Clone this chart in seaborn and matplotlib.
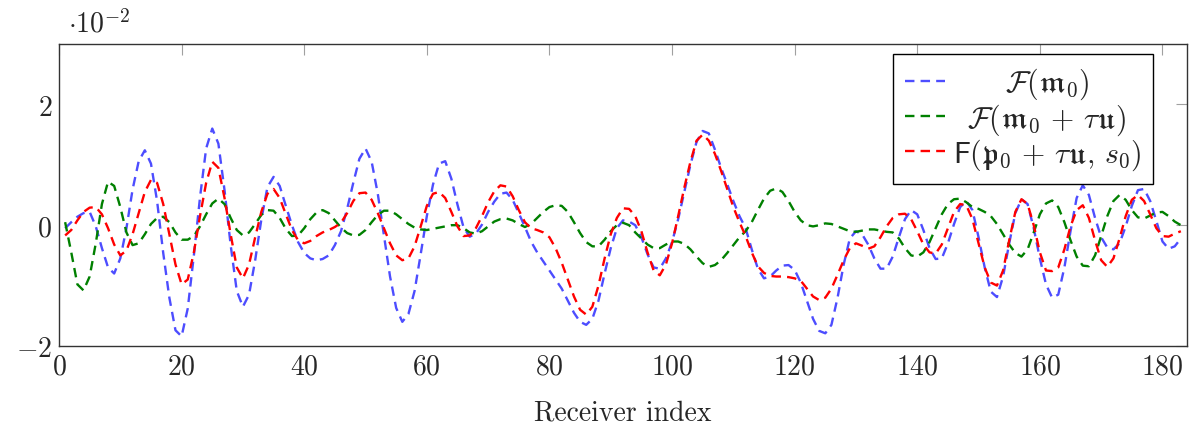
import numpy as np
import pandas as pd
import seaborn as sns
import matplotlib.pyplot as plt

# receiver indices
receivers = list(range(1, 184))

# values in units of 1e-2
F_m0 = [-0.05, 0.05, 0.14, 0.20, 0.22, -0.02, -0.38, -0.70, -0.80, -0.55,
        -0.05, 0.59, 1.06, 1.24, 1.02, 0.40, -0.46, -1.20, -1.74, -1.84,
        -1.38, -0.50, 0.46, 1.27, 1.60, 1.35, 0.58, -0.33, -1.09, -1.35,
        -1.15, -0.58, 0.09, 0.63, 0.80, 0.65, 0.32, 0.00, -0.28, -0.46,
        -0.55, -0.58, -0.56, -0.50, -0.33, -0.10, 0.27, 0.70, 1.10, 1.27,
        1.05, 0.52, -0.17, -0.85, -1.37, -1.60, -1.47, -1.09, -0.48, 0.15,
        0.67, 1.02, 1.06, 0.77, 0.34, -0.04, -0.19, -0.14, 0.01, 0.22,
        0.39, 0.52, 0.54, 0.42, 0.20, -0.03, -0.27, -0.45, -0.60, -0.75,
        -0.90, -1.05, -1.25, -1.45, -1.60, -1.65, -1.55, -1.25, -0.80, -0.38,
        -0.05, 0.08, 0.06, 0.00, -0.20, -0.48, -0.70, -0.72, -0.55, -0.28,
        0.10, 0.55, 1.00, 1.38, 1.56, 1.52, 1.25, 0.95, 0.68, 0.40,
        0.15, -0.05, -0.40, -0.72, -0.88, -0.85, -0.75, -0.67, -0.66, -0.74,
        -0.95, -1.25, -1.55, -1.75, -1.79, -1.65, -1.20, -0.65, -0.22, -0.10,
        -0.15, -0.32, -0.55, -0.72, -0.72, -0.52, -0.20, 0.10, 0.25, 0.18,
        -0.08, -0.38, -0.56, -0.55, -0.30, 0.02, 0.30, 0.40, 0.25, -0.20,
        -0.70, -1.10, -1.19, -0.85, -0.30, 0.20, 0.43, 0.35, -0.05, -0.55,
        -0.98, -1.20, -1.15, -0.70, -0.10, 0.45, 0.66, 0.50, 0.12, -0.20,
        -0.37, -0.40, -0.30, -0.02, 0.32, 0.58, 0.60, 0.40, 0.07, -0.27,
        -0.39, -0.35, -0.22]

F_m0_tau = [0.05, -0.45, -0.98, -1.08, -0.85, -0.30, 0.35, 0.72, 0.65, 0.30,
            -0.12, -0.33, -0.30, -0.15, 0.02, 0.12, 0.14, 0.05, -0.12, -0.24,
            -0.24, -0.18, -0.02, 0.18, 0.36, 0.44, 0.35, 0.12, -0.08, -0.17,
            -0.12, 0.02, 0.17, 0.25, 0.24, 0.12, -0.06, -0.18, -0.17, -0.05,
            0.10, 0.21, 0.25, 0.20, 0.08, -0.04, -0.13, -0.17, -0.16, -0.08,
            0.05, 0.17, 0.24, 0.24, 0.18, 0.10, 0.02, -0.04, -0.07, -0.08,
            -0.06, -0.04, -0.02, 0.00, 0.00, -0.05, -0.12, -0.14, -0.10, -0.02,
            0.06, 0.10, 0.11, 0.08, 0.02, -0.03, 0.02, 0.12, 0.22, 0.30,
            0.33, 0.32, 0.22, 0.05, -0.13, -0.28, -0.35, -0.35, -0.24, -0.10,
            0.00, 0.04, 0.00, -0.12, -0.22, -0.32, -0.38, -0.38, -0.32, -0.27,
            -0.27, -0.31, -0.40, -0.52, -0.63, -0.69, -0.66, -0.58, -0.46, -0.33,
            -0.20, -0.10, 0.05, 0.25, 0.44, 0.57, 0.61, 0.55, 0.40, 0.22,
            0.08, 0.00, -0.02, 0.00, 0.03, 0.02, -0.02, -0.06, -0.10, -0.11,
            -0.09, -0.07, -0.07, -0.09, -0.11, -0.12, -0.22, -0.38, -0.50, -0.52,
            -0.45, -0.28, -0.05, 0.18, 0.35, 0.43, 0.44, 0.38, 0.30, 0.27,
            0.22, 0.15, 0.02, -0.15, -0.32, -0.46, -0.52, -0.40, -0.12, 0.18,
            0.36, 0.41, 0.30, 0.05, -0.25, -0.52, -0.67, -0.68, -0.50, -0.18,
            0.15, 0.40, 0.50, 0.42, 0.25, 0.13, 0.11, 0.16, 0.21, 0.22,
            0.15, 0.06, 0.00]

F_p0 = [-0.17, -0.08, 0.08, 0.22, 0.29, 0.30, 0.18, -0.05, -0.32, -0.50,
        -0.42, -0.15, 0.20, 0.55, 0.75, 0.70, 0.35, -0.15, -0.65, -0.98,
        -0.90, -0.45, 0.15, 0.70, 1.05, 0.95, 0.45, -0.15, -0.70, -0.88,
        -0.65, -0.20, 0.22, 0.52, 0.60, 0.45, 0.18, -0.08, -0.25, -0.30,
        -0.26, -0.18, -0.12, -0.08, -0.03, 0.04, 0.20, 0.40, 0.53, 0.54,
        0.42, 0.20, -0.05, -0.30, -0.50, -0.58, -0.55, -0.35, -0.02, 0.32,
        0.52, 0.55, 0.45, 0.22, -0.02, -0.18, -0.17, -0.05, 0.15, 0.38,
        0.56, 0.66, 0.64, 0.48, 0.25, 0.05, -0.05, -0.08, -0.12, -0.20,
        -0.38, -0.62, -0.90, -1.18, -1.40, -1.48, -1.35, -1.00, -0.55, -0.15,
        0.12, 0.28, 0.27, 0.15, -0.10, -0.45, -0.75, -0.83, -0.65, -0.30,
        0.15, 0.62, 1.05, 1.40, 1.50, 1.40, 1.18, 0.90, 0.60, 0.30,
        0.05, -0.18, -0.45, -0.68, -0.79, -0.84, -0.85, -0.85, -0.86, -0.88,
        -0.92, -1.05, -1.18, -1.24, -1.20, -1.05, -0.82, -0.58, -0.38, -0.30,
        -0.34, -0.39, -0.35, -0.20, -0.02, 0.12, 0.18, 0.19, 0.10, -0.10,
        -0.32, -0.45, -0.47, -0.32, -0.05, 0.22, 0.35, 0.33, 0.10, -0.30,
        -0.70, -0.95, -1.00, -0.75, -0.25, 0.22, 0.43, 0.35, 0.00, -0.45,
        -0.75, -0.76, -0.70, -0.40, -0.02, 0.25, 0.33, 0.12, -0.25, -0.58,
        -0.69, -0.55, -0.22, 0.15, 0.42, 0.50, 0.40, 0.18, -0.05, -0.18,
        -0.19, -0.14, -0.10]

labels = [r'$\mathcal{F}(\mathfrak{m}_0)$',
          r'$\mathcal{F}(\mathfrak{m}_0 \,+\, \tau\mathfrak{u})$',
          r'$\mathsf{F}(\mathfrak{p}_0 \,+\, \tau\mathfrak{u},\, s_0)$']
colors = [(0.3, 0.3, 1.0), (0.0, 0.5, 0.0), (1.0, 0.0, 0.0)]

sns.set_style('white')
plt.rcParams['font.family'] = ['cmr10', 'DejaVu Serif']
plt.rcParams['mathtext.fontset'] = 'cm'
plt.rcParams['axes.formatter.use_mathtext'] = True
plt.rcParams['axes.unicode_minus'] = True

fs = 20

fig = plt.figure(figsize=(11.92, 4.27), dpi=100)
ax = fig.add_axes([0.0495, 0.1874, 0.9463, 0.7072])

for vals, lab, col in zip([F_m0, F_m0_tau, F_p0], labels, colors):
    sns.lineplot(x=receivers, y=vals, ax=ax, color=col, label=lab,
                 lw=1.7, linestyle=(0, (4, 2.6)))

ax.set_xlim(0, 184)
ax.set_ylim(-2, 3)
ax.set_xticks(range(0, 181, 20))
ax.set_yticks([-2, 0, 2])
ax.tick_params(direction='in', length=8, width=0.8, color='#a0a0a0',
               top=True, right=True, labelsize=fs, pad=5)
for s in ax.spines.values():
    s.set_color('#333333')
    s.set_linewidth(1.0)

ax.set_xlabel('Receiver index', fontsize=fs, labelpad=14)
ax.set_ylabel('')
ax.text(0.008, 1.02, r'$\cdot 10^{-2}$', transform=ax.transAxes,
        ha='left', va='bottom', fontsize=fs)

leg = ax.legend(loc='upper right', bbox_to_anchor=(0.970, 0.967),
                fontsize=21.5, frameon=True, fancybox=False, edgecolor='black',
                framealpha=1, borderpad=0.4, labelspacing=0.0,
                handlelength=1.35, handletextpad=0.25, borderaxespad=0)
leg.get_frame().set_linewidth(1.0)

# centre the legend entries like the original
fig.canvas.draw()
r = fig.canvas.get_renderer()
widths = [t.get_window_extent(r).width for t in leg.get_texts()]
wmax = max(widths)
for t, w in zip(leg.get_texts(), widths):
    t.set_x((wmax - w) / 2)

fig.savefig('out.png', dpi=100)
